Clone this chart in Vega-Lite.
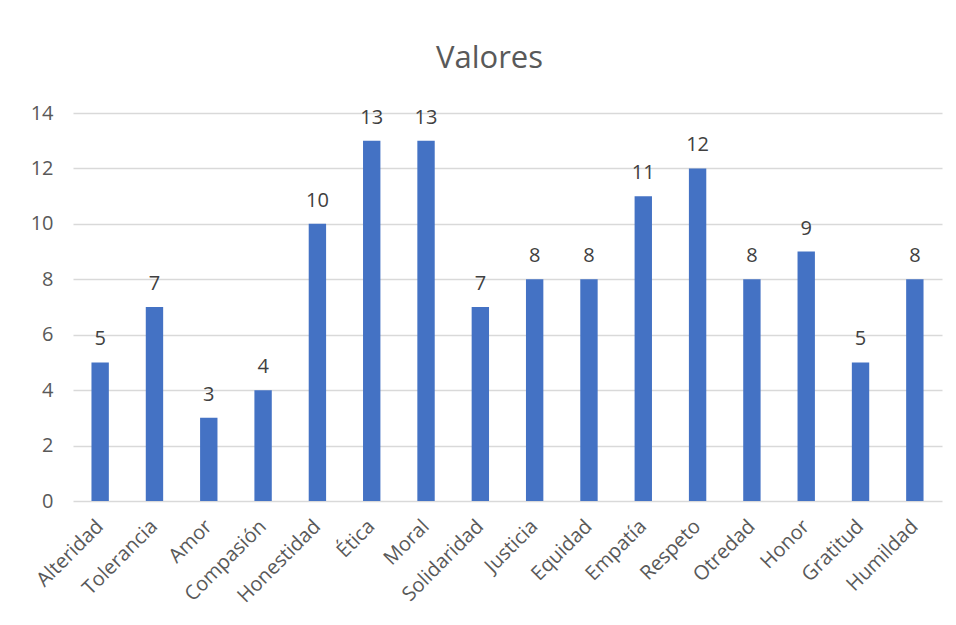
{
  "$schema": "https://vega.github.io/schema/vega-lite/v6.json",
  "autosize": {"type": "none"},
  "width": 869,
  "height": 388,
  "padding": {"left": 73, "top": 113, "right": 14, "bottom": 124},
  "background": "white",
  "config": {
    "font": "Open Sans",
    "view": {"stroke": null}
  },
  "title": {
    "text": "Valores",
    "fontSize": 31,
    "fontWeight": "normal",
    "color": "#595959",
    "font": "Open Sans",
    "offset": 28,
    "dx": -18
  },
  "data": {
    "values": [
      {"valor": "Alteridad", "n": 5},
      {"valor": "Tolerancia", "n": 7},
      {"valor": "Amor", "n": 3},
      {"valor": "Compasión", "n": 4},
      {"valor": "Honestidad", "n": 10},
      {"valor": "Ética", "n": 13},
      {"valor": "Moral", "n": 13},
      {"valor": "Solidaridad", "n": 7},
      {"valor": "Justicia", "n": 8},
      {"valor": "Equidad", "n": 8},
      {"valor": "Empatía", "n": 11},
      {"valor": "Respeto", "n": 12},
      {"valor": "Otredad", "n": 8},
      {"valor": "Honor", "n": 9},
      {"valor": "Gratitud", "n": 5},
      {"valor": "Humildad", "n": 8}
    ]
  },
  "encoding": {
    "x": {
      "field": "valor",
      "type": "nominal",
      "sort": null,
      "scale": {"paddingInner": 0.68, "paddingOuter": 0.34},
      "axis": {
        "title": null,
        "labelAngle": -45,
        "labelAlign": "right",
        "labelBaseline": "middle",
        "labelFontSize": 20,
        "labelColor": "#595959",
        "labelPadding": 22,
        "ticks": false,
        "domain": false
      }
    },
    "y": {
      "field": "n",
      "type": "quantitative",
      "scale": {"domain": [0, 14]},
      "axis": {
        "title": null,
        "values": [0, 2, 4, 6, 8, 10, 12, 14],
        "labelFontSize": 20,
        "labelColor": "#595959",
        "labelPadding": 20,
        "ticks": false,
        "domain": false,
        "gridColor": "#d9d9d9",
        "gridWidth": 1.5
      }
    }
  },
  "layer": [
    {"mark": {"type": "bar", "color": "#4472C4"}},
    {
      "mark": {"type": "text", "baseline": "alphabetic", "dy": -17, "fontSize": 20, "color": "#404040"},
      "encoding": {"text": {"field": "n", "type": "quantitative"}}
    }
  ]
}
